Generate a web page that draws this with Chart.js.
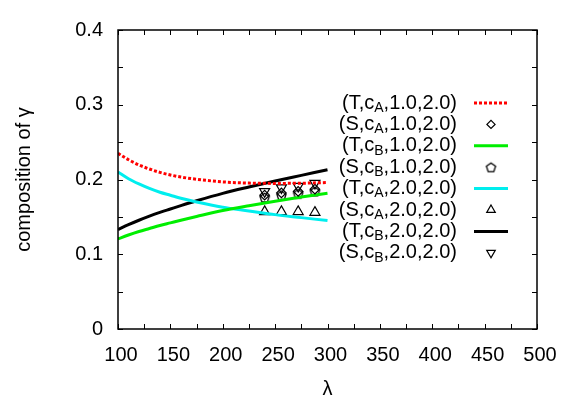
<!DOCTYPE html>
<html>
<head>
<meta charset="utf-8">
<script src="https://cdn.jsdelivr.net/npm/chart.js@4.4.0/dist/chart.umd.min.js"></script>
<style>
  html, body { margin: 0; padding: 0; background: #fff; }
  #wrap { width: 581px; height: 407px; }
</style>
</head>
<body>
<div id="wrap"><canvas id="chart" width="581" height="407"></canvas></div>
<script>
// curve data (T = theory)
const lambdaCurve = [100, 110, 120, 130, 140, 150, 160, 175, 200, 225, 250, 275, 300];
const tCaLow  = [0.235, 0.2265, 0.2195, 0.214, 0.2095, 0.206, 0.2033, 0.2003, 0.1968, 0.1952, 0.1948, 0.195, 0.196];
const tCbLow  = [0.1205, 0.1258, 0.1305, 0.1345, 0.1385, 0.142, 0.1455, 0.1505, 0.1585, 0.165, 0.171, 0.1765, 0.1815];
const tCaHigh = [0.210, 0.201, 0.194, 0.188, 0.183, 0.179, 0.175, 0.170, 0.163, 0.158, 0.153, 0.149, 0.145];
const tCbHigh = [0.133, 0.1395, 0.1455, 0.151, 0.156, 0.1605, 0.165, 0.1715, 0.1815, 0.190, 0.198, 0.2055, 0.213];

// simulation points (S)
const lambdaSim = [240, 256, 272, 288];
const sCaLow  = [0.179, 0.182, 0.184, 0.187];
const sCbLow  = [0.176, 0.179, 0.181, 0.184];
const sCaHigh = [0.157, 0.157, 0.157, 0.156];
const sCbHigh = [0.184, 0.189, 0.191, 0.195];

const legendLabels = [
  ['(T,c', 'A', ',1.0,2.0)'],
  ['(S,c', 'A', ',1.0,2.0)'],
  ['(T,c', 'B', ',1.0,2.0)'],
  ['(S,c', 'B', ',1.0,2.0)'],
  ['(T,c', 'A', ',2.0,2.0)'],
  ['(S,c', 'A', ',2.0,2.0)'],
  ['(T,c', 'B', ',2.0,2.0)'],
  ['(S,c', 'B', ',2.0,2.0)']
];

const FONT = "'Liberation Sans', Arial, Helvetica, sans-serif";

function pairs(xs, ys) {
  return xs.map((x, i) => ({ x: x, y: ys[i] }));
}

// pentagon marker
const pentagon = document.createElement('canvas');
pentagon.width = 13; pentagon.height = 13;
(function() {
  const c = pentagon.getContext('2d');
  c.beginPath();
  for (let i = 0; i < 5; i++) {
    const a = -Math.PI / 2 + i * 2 * Math.PI / 5;
    const px = 6.5 + 4.8 * Math.cos(a), py = 7 + 4.8 * Math.sin(a);
    if (i === 0) c.moveTo(px, py); else c.lineTo(px, py);
  }
  c.closePath();
  c.strokeStyle = '#000';
  c.lineWidth = 1.3;
  c.stroke();
})();

function lineSet(ys, color, dash) {
  return {
    type: 'line',
    data: pairs(lambdaCurve, ys),
    borderColor: color,
    borderWidth: 3,
    borderDash: dash || [],
    pointRadius: 0,
    fill: false,
    cubicInterpolationMode: 'monotone'
  };
}

function pointSet(ys, style, radius, rotation) {
  return {
    type: 'scatter',
    data: pairs(lambdaSim, ys),
    showLine: false,
    pointStyle: style,
    pointRadius: radius,
    pointRotation: rotation || 0,
    pointBackgroundColor: 'rgba(255,255,255,0)',
    pointBorderColor: '#000',
    pointBorderWidth: 1.2
  };
}

const datasets = [
  lineSet(tCaLow, '#ff0000', [3, 2]),
  pointSet(sCaLow, 'rectRot', 4.8),
  lineSet(tCbLow, '#00ee00'),
  pointSet(sCbLow, pentagon, 5),
  lineSet(tCaHigh, '#00eeee'),
  pointSet(sCaHigh, 'triangle', 5.8),
  lineSet(tCbHigh, '#000000'),
  pointSet(sCbHigh, 'triangle', 5.8, 180)
];

// box and inward tick marks like gnuplot
const framePlugin = {
  id: 'frame',
  afterDraw(chart) {
    const ctx = chart.ctx;
    const a = chart.chartArea;
    const xs = chart.scales.x, ys = chart.scales.y;
    ctx.save();
    ctx.strokeStyle = '#000';
    ctx.lineWidth = 1.5;
    ctx.strokeRect(a.left, a.top, a.right - a.left, a.bottom - a.top);
    ctx.lineWidth = 1;
    ctx.beginPath();
    xs.ticks.forEach(t => {
      const px = Math.round(xs.getPixelForValue(t.value)) + 0.5;
      ctx.moveTo(px, a.bottom); ctx.lineTo(px, a.bottom - 5);
      ctx.moveTo(px, a.top); ctx.lineTo(px, a.top + 5);
    });
    ys.ticks.forEach(t => {
      const py = Math.round(ys.getPixelForValue(t.value)) + 0.5;
      ctx.moveTo(a.left, py); ctx.lineTo(a.left + 5, py);
      ctx.moveTo(a.right, py); ctx.lineTo(a.right - 5, py);
    });
    ctx.stroke();
    ctx.restore();
  }
};

// legend inside the plot: text right aligned, sample on the right
const legendPlugin = {
  id: 'sideLegend',
  afterDraw(chart) {
    const ctx = chart.ctx;
    const textRight = 457, sampleL = 474, sampleR = 508, top = 103, step = 21.4;
    ctx.save();
    legendLabels.forEach((parts, i) => {
      const y = top + i * step;
      ctx.fillStyle = '#000';
      ctx.textBaseline = 'middle';
      ctx.textAlign = 'left';
      ctx.font = '20px ' + FONT;
      const w0 = ctx.measureText(parts[0]).width;
      const w2 = ctx.measureText(parts[2]).width;
      ctx.font = '14px ' + FONT;
      const w1 = ctx.measureText(parts[1]).width;
      const x = textRight - w0 - w1 - w2;
      ctx.font = '20px ' + FONT;
      ctx.fillText(parts[0], x, y);
      ctx.font = '14px ' + FONT;
      ctx.fillText(parts[1], x + w0, y + 5);
      ctx.font = '20px ' + FONT;
      ctx.fillText(parts[2], x + w0 + w1, y);

      const ds = chart.data.datasets[i];
      if (ds.type === 'line') {
        ctx.strokeStyle = ds.borderColor;
        ctx.lineWidth = ds.borderWidth;
        ctx.setLineDash(ds.borderDash);
        ctx.beginPath();
        ctx.moveTo(sampleL, y); ctx.lineTo(sampleR, y);
        ctx.stroke();
        ctx.setLineDash([]);
      } else {
        ctx.strokeStyle = '#000';
        ctx.fillStyle = 'rgba(255,255,255,0)';
        ctx.lineWidth = 1.2;
        Chart.helpers.drawPoint(ctx, {
          pointStyle: ds.pointStyle,
          radius: ds.pointRadius * 0.85,
          rotation: ds.pointRotation,
          borderWidth: 1.2
        }, (sampleL + sampleR) / 2, y);
      }
    });
    ctx.restore();
  }
};

const tickFont = { family: FONT, size: 20 };

new Chart(document.getElementById('chart'), {
  type: 'scatter',
  data: { datasets: datasets },
  plugins: [framePlugin, legendPlugin],
  options: {
    responsive: false,
    animation: false,
    layout: { padding: { top: 30, right: 44, left: 0, bottom: 0 } },
    plugins: { legend: { display: false }, tooltip: { enabled: false } },
    scales: {
      x: {
        type: 'linear',
        min: 100,
        max: 500,
        afterFit: function(s) { s.height = 78; },
        grid: { display: false, drawTicks: false },
        border: { display: false },
        ticks: {
          stepSize: 25,
          autoSkip: false,
          maxRotation: 0,
          padding: 14,
          labelOffset: 3,
          color: '#000',
          font: tickFont,
          callback: v => (v % 50 === 0 ? String(v) : '')
        },
        title: {
          display: true,
          text: 'λ',
          color: '#000',
          font: tickFont,
          padding: { top: 0, bottom: 6 }
        }
      },
      y: {
        min: 0,
        max: 0.4,
        afterFit: function(s) { s.width = 118; },
        grid: { display: false, drawTicks: false },
        border: { display: false },
        ticks: {
          stepSize: 0.05,
          autoSkip: false,
          padding: 15,
          color: '#000',
          font: tickFont,
          callback: v => {
            const k = Math.round(v * 100);
            return k % 10 === 0 ? String(k / 100) : '';
          }
        },
        title: {
          display: true,
          text: 'composition of γ',
          color: '#000',
          font: tickFont,
          padding: { top: 12, bottom: 0 }
        }
      }
    }
  }
});
</script>
</body>
</html>
